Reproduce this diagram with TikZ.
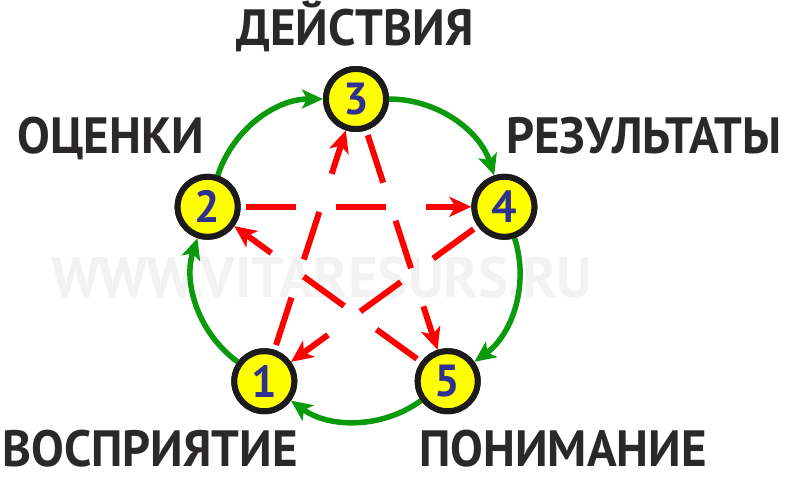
\documentclass[tikz,border=0pt]{standalone}
\usepackage{fontspec}
\setmainfont{PT Sans}
\usetikzlibrary{arrows.meta,calc}
\definecolor{txt}{HTML}{2B2829}
\definecolor{wmark}{HTML}{F2F2F2}
\definecolor{nfill}{HTML}{FFFF00}
\definecolor{nborder}{HTML}{1C1A1B}
\definecolor{numc}{HTML}{2E3192}
\definecolor{gline}{HTML}{0B9A0B}
\definecolor{rline}{HTML}{FF0000}
\begin{document}
\begin{tikzpicture}[x=1pt,y=1pt,
  num/.style={circle, draw=nborder, line width=6pt, fill=nfill, minimum size=60pt, inner sep=0pt,
    text=numc, font=\bfseries\fontsize{45}{45}\selectfont},
  lab/.style={text=txt, anchor=base, inner sep=0pt, xscale=0.96, transform shape, font=\bfseries\fontsize{51}{51}\selectfont},
  garrow/.style={draw=gline, line width=5.5pt, -{Stealth[length=21pt,width=19pt,inset=5pt]}, bend left=36, looseness=0.94},
  rarrow/.style={draw=rline, line width=6pt, dash pattern=on 50pt off 40pt, shorten <=5pt, -{Stealth[length=22pt,width=20pt,inset=6pt]}}
]
\useasboundingbox (0,0) rectangle (785,-477);
\fill[white] (0,0) rectangle (785,-477);
\node[text=wmark, anchor=base, inner sep=0pt, font=\bfseries\fontsize{57}{57}\selectfont] (wm) at (322,-297) {WWW.VITARESURS.RU};
\coordinate (C) at (356,-255);
\node[num] (n3) at ($(C)+(90:156)$) {3};
\node[num] (n4) at ($(C)+(18:156)$) {4};
\node[num] (n5) at ($(C)+(-54:156)$) {5};
\node[num] (n1) at ($(C)+(-126:156)$) {1};
\node[num] (n2) at ($(C)+(162:156)$) {2};
\draw[rarrow] (n1) -- (n3);
\draw[rarrow] (n3) -- (n5);
\draw[rarrow] (n5) -- (n2);
\draw[rarrow] (n2) -- (n4);
\draw[rarrow] (n4) -- (n1);
\draw[garrow] (n2) to (n3);
\draw[garrow] (n3) to (n4);
\draw[garrow] (n4) to (n5);
\draw[garrow] (n5) to (n1);
\draw[garrow] (n1) to (n2);
\node[num] at (n3) {3};
\node[num] at (n4) {4};
\node[num] at (n5) {5};
\node[num] at (n1) {1};
\node[num] at (n2) {2};
\node[lab] (l3) at (355,-45) {ДЕЙСТВИЯ};
\node[lab] (l2) at (111,-153) {ОЦЕНКИ};
\node[lab] (l4) at (644,-153) {РЕЗУЛЬТАТЫ};
\node[lab] (l1) at (150,-466) {ВОСПРИЯТИЕ};
\node[lab] (l5) at (563,-466) {ПОНИМАНИЕ};
\end{tikzpicture}
\end{document}
